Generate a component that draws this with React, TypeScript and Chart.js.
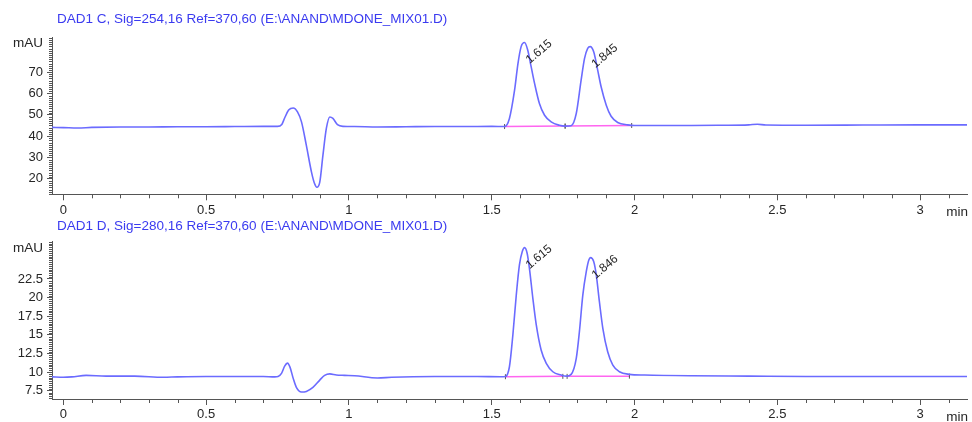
import React, { useEffect, useRef } from "react";
import { Chart, registerables } from "chart.js";

Chart.register(...registerables);

// ---- Channel C (Sig=254,16) ----
const TIME_C = [
  -0.04, 0.0, 0.05, 0.1, 0.2, 0.3, 0.4, 0.5, 0.6, 0.7, 0.75, 0.765, 0.775, 0.789, 0.805,
  0.82, 0.834, 0.851, 0.869, 0.88, 0.888, 0.898, 0.909, 0.921, 0.933, 0.944, 0.96, 0.979,
  1.02, 1.1, 1.2, 1.3, 1.4, 1.5, 1.545, 1.562, 1.58, 1.592, 1.603, 1.615, 1.626, 1.638,
  1.65, 1.667, 1.685, 1.708, 1.737, 1.757, 1.778, 1.796, 1.813, 1.825, 1.836, 1.845,
  1.857, 1.871, 1.883, 1.901, 1.918, 1.941, 1.976, 2.0, 2.1, 2.2, 2.3, 2.4, 2.43, 2.46,
  2.6, 2.8, 3.0, 3.164,
];
const MAU_C = [
  44.1, 44.0, 43.8, 44.1, 44.3, 44.3, 44.4, 44.4, 44.5, 44.6, 44.6, 45.5, 48.5, 52.2, 53.2,
  51.4, 46.7, 35.7, 23.2, 17.7, 16.1, 18.5, 31.0, 43.6, 49.0, 48.3, 45.4, 44.6,
  44.5, 44.3, 44.4, 44.5, 44.5, 44.6, 44.5, 48.3, 61.5, 74.1, 81.9, 83.8, 80.3, 72.5,
  64.7, 55.3, 49.8, 46.7, 45.1, 44.7, 44.9, 50.6, 66.2, 76.4, 81.1, 81.9,
  79.5, 70.9, 63.1, 54.5, 49.3, 46.4, 45.3, 45.0, 45.0, 45.0, 45.1, 45.3, 45.6, 45.2,
  45.1, 45.2, 45.3, 45.3,
];
const BASE_C_TIME = [[1.545, 1.757], [1.757, 1.99]];
const BASE_C_MAU = [[44.5, 44.7], [44.7, 45.0]];
const PEAK_C_TIME = [1.615, 1.845];
const PEAK_C_LABEL = ["1.615", "1.845"];
const Y_TICKS_C = [20, 30, 40, 50, 60, 70];

// ---- Channel D (Sig=280,16) ----
const TIME_D = [
  -0.04, 0.0, 0.03, 0.08, 0.15, 0.25, 0.35, 0.4, 0.5, 0.6, 0.7, 0.74, 0.752, 0.764, 0.775,
  0.785, 0.794, 0.805, 0.816, 0.834, 0.851, 0.874, 0.898, 0.915, 0.933, 0.956, 0.985,
  1.02, 1.1, 1.15, 1.3, 1.45, 1.53, 1.548, 1.562, 1.574, 1.586, 1.597, 1.607, 1.615,
  1.624, 1.632, 1.644, 1.656, 1.673, 1.691, 1.714, 1.743, 1.761, 1.778, 1.796, 1.807,
  1.819, 1.831, 1.84, 1.846, 1.857, 1.866, 1.877, 1.889, 1.906, 1.924, 1.947, 1.982,
  2.035, 2.2, 2.4, 2.6, 2.8, 3.0, 3.164,
];
const MAU_D = [
  9.35, 9.3, 9.35, 9.55, 9.45, 9.45, 9.3, 9.35, 9.4, 9.4, 9.4, 9.35, 9.4, 9.82, 10.8,
  11.2, 10.63, 9.15, 7.94, 7.31, 7.4, 7.94, 8.92, 9.55, 9.75, 9.6, 9.55,
  9.5, 9.2, 9.3, 9.4, 9.4, 9.37, 9.4, 10.71, 14.97, 20.35, 24.38, 26.17, 26.7,
  25.95, 23.93, 19.9, 16.32, 12.96, 11.17, 10.04, 9.6, 9.45, 9.69, 11.84, 15.42,
  20.35, 23.48, 25.05, 25.36, 24.83, 23.04, 19.45, 15.87, 12.73, 10.94, 10.04, 9.69,
  9.6, 9.5, 9.45, 9.4, 9.4, 9.4, 9.4,
];
const BASE_D_TIME = [[1.548, 1.749], [1.764, 1.982]];
const BASE_D_MAU = [[9.37, 9.42], [9.42, 9.45]];
const PEAK_D_TIME = [1.615, 1.846];
const PEAK_D_LABEL = ["1.615", "1.846"];
const Y_TICKS_D = [7.5, 10, 12.5, 15, 17.5, 20, 22.5];

const X_TICKS = [0, 0.5, 1, 1.5, 2, 2.5, 3];
const X_MIN = -0.0395;
const X_MAX = 3.164;

const TITLE_C = "DAD1 C, Sig=254,16 Ref=370,60 (E:\\ANAND\\MDONE_MIX01.D)";
const TITLE_D = "DAD1 D, Sig=280,16 Ref=370,60 (E:\\ANAND\\MDONE_MIX01.D)";

const FONT_FAMILY = '"Liberation Sans", Arial, sans-serif';
const TRACE = "#6b6bff";
const BASELINE = "#ff66f0";
const AXIS = "#555555";
const LABEL = "#262626";
const TITLE_COLOR = "#3b3bf0";
const WIDTH = 972;
const AXIS_LEFT = 52;

type PanelProps = {
  top: number;
  height: number;
  areaTop: number;
  areaBottom: number;
  titleY: number;
  unitY: number;
  title: string;
  times: number[];
  values: number[];
  baseTimes: number[][];
  baseValues: number[][];
  peakTimes: number[];
  peakLabels: string[];
  yMin: number;
  yMax: number;
  yTicks: number[];
  yMinor: number;
};

function Panel(p: PanelProps) {
  const ref = useRef<HTMLCanvasElement>(null);

  useEffect(() => {
    const canvas = ref.current;
    if (!canvas) return;

    // Minor ticks, titles, unit labels and retention-time annotations
    const overlay = {
      id: "hplcOverlay",
      afterDraw(chart: any) {
        const { ctx, chartArea, scales } = chart;
        const xs = scales.x;
        const ys = scales.y;
        ctx.save();
        ctx.strokeStyle = AXIS;
        ctx.lineWidth = 1;
        ctx.beginPath();
        for (let i = 1; i <= 31; i++) {
          if (i % 5 === 0) continue;
          const px = Math.round(xs.getPixelForValue(i / 10)) + 0.5;
          ctx.moveTo(px, chartArea.bottom);
          ctx.lineTo(px, chartArea.bottom + 4);
        }
        const first = Math.ceil(p.yMin / p.yMinor);
        for (let k = first; k * p.yMinor <= p.yMax + 1e-9; k++) {
          const v = k * p.yMinor;
          if (p.yTicks.some((t) => Math.abs(t - v) < 1e-6)) continue;
          const py = Math.round(ys.getPixelForValue(v)) + 0.5;
          ctx.moveTo(chartArea.left - 3, py);
          ctx.lineTo(chartArea.left, py);
        }
        ctx.stroke();

        ctx.textBaseline = "middle";
        ctx.fillStyle = TITLE_COLOR;
        ctx.textAlign = "left";
        ctx.font = `13.5px ${FONT_FAMILY}`;
        ctx.fillText(p.title, 57, p.titleY);

        ctx.fillStyle = LABEL;
        ctx.textAlign = "right";
        ctx.fillText("mAU", 43, p.unitY);
        ctx.fillText("min", 968, chartArea.bottom + 18);

        ctx.font = `12px ${FONT_FAMILY}`;
        ctx.textAlign = "left";
        p.peakTimes.forEach((t, i) => {
          const idx = p.times.indexOf(t);
          const px = xs.getPixelForValue(t);
          const py = ys.getPixelForValue(p.values[idx]);
          ctx.save();
          ctx.translate(px + 3, py + 19);
          ctx.rotate((-40 * Math.PI) / 180);
          ctx.fillText(p.peakLabels[i], 0, 0);
          ctx.restore();
        });
        ctx.restore();
      },
    };

    const tickFont = { family: FONT_FAMILY, size: 13 };

    const chart = new Chart(canvas, {
      type: "line",
      data: {
        datasets: [
          ...p.baseTimes.map((seg, s) => ({
            data: seg.map((t, j) => ({ x: t, y: p.baseValues[s][j] })),
            borderColor: BASELINE,
            borderWidth: 1.5,
            pointRadius: 2.5,
            pointStyle: "line" as const,
            rotation: 90,
            pointBorderColor: "#555",
            pointBorderWidth: 1,
            order: 2,
          })),
          {
            data: p.times.map((t, i) => ({ x: t, y: p.values[i] })),
            borderColor: TRACE,
            borderWidth: 1.6,
            pointRadius: 0,
            cubicInterpolationMode: "monotone" as const,
            order: 1,
          },
        ],
      },
      options: {
        responsive: false,
        maintainAspectRatio: false,
        animation: false,
        events: [],
        layout: { padding: { top: p.areaTop, right: WIDTH - 968, left: 0, bottom: 0 } },
        plugins: {
          legend: { display: false },
          tooltip: { enabled: false },
          title: { display: false },
        },
        scales: {
          x: {
            type: "linear",
            min: X_MIN,
            max: X_MAX,
            afterBuildTicks: (s: any) => {
              s.ticks = X_TICKS.map((v) => ({ value: v }));
            },
            afterFit: (s: any) => {
              s.height = p.height - p.areaBottom;
            },
            grid: { drawOnChartArea: false, drawTicks: true, tickLength: 6, color: AXIS, tickColor: AXIS },
            border: { display: true, color: AXIS, width: 1 },
            ticks: {
              autoSkip: false,
              maxRotation: 0,
              padding: 2,
              color: LABEL,
              font: tickFont,
              callback: (v: any) => String(v),
            },
          },
          y: {
            type: "linear",
            min: p.yMin,
            max: p.yMax,
            afterBuildTicks: (s: any) => {
              s.ticks = p.yTicks.map((v) => ({ value: v }));
            },
            afterFit: (s: any) => {
              s.width = AXIS_LEFT;
            },
            grid: { drawOnChartArea: false, drawTicks: true, tickLength: 5, color: AXIS, tickColor: AXIS },
            border: { display: true, color: AXIS, width: 1 },
            ticks: {
              autoSkip: false,
              padding: 4,
              color: LABEL,
              font: tickFont,
              callback: (v: any) => String(v),
            },
          },
        },
      },
      plugins: [overlay],
    } as any);

    return () => chart.destroy();
  }, []);

  return (
    <canvas
      ref={ref}
      width={WIDTH}
      height={p.height}
      style={{ position: "absolute", left: 0, top: p.top, width: WIDTH, height: p.height }}
    />
  );
}

export default function App() {
  return (
    <div
      style={{
        position: "absolute",
        left: 0,
        top: 0,
        width: WIDTH,
        height: 422,
        background: "#ffffff",
        overflow: "hidden",
      }}
    >
      <Panel
        top={0}
        height={222}
        areaTop={37}
        areaBottom={194.3}
        titleY={19}
        unitY={43}
        title={TITLE_C}
        times={TIME_C}
        values={MAU_C}
        baseTimes={BASE_C_TIME}
        baseValues={BASE_C_MAU}
        peakTimes={PEAK_C_TIME}
        peakLabels={PEAK_C_LABEL}
        yMin={12.8}
        yMax={86.4}
        yTicks={Y_TICKS_C}
        yMinor={1}
      />
      <Panel
        top={214}
        height={208}
        areaTop={27.7}
        areaBottom={185}
        titleY={12}
        unitY={34}
        title={TITLE_D}
        times={TIME_D}
        values={MAU_D}
        baseTimes={BASE_D_TIME}
        baseValues={BASE_D_MAU}
        peakTimes={PEAK_D_TIME}
        peakLabels={PEAK_D_LABEL}
        yMin={6.38}
        yMax={27.5}
        yTicks={Y_TICKS_D}
        yMinor={0.25}
      />
    </div>
  );
}
